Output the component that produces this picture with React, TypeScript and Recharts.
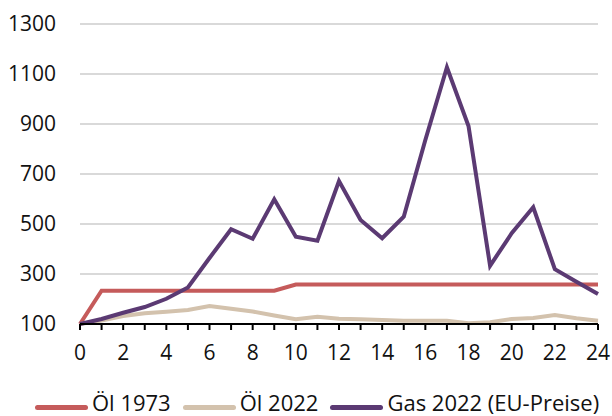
import React from "react";
import { LineChart, Line, XAxis, YAxis, CartesianGrid, Legend } from "recharts";

const months = Array.from({ length: 25 }, (_, i) => i);
const oil1973 = [100, 233, 233, 233, 233, 233, 233, 233, 233, 233, 258, 258, 258, 258, 258, 258, 258, 258, 258, 258, 258, 258, 258, 258, 258];
const oil2022 = [100, 114, 132, 143, 149, 156, 172, 161, 150, 134, 119, 129, 121, 119, 116, 113, 113, 113, 103, 107, 120, 124, 136, 123, 113];
const gas2022 = [100, 120, 145, 168, 201, 246, 364, 479, 441, 599, 449, 433, 672, 516, 443, 529, 836, 1127, 892, 333, 463, 567, 319, 269, 220];
const yTicks = [100, 300, 500, 700, 900, 1100, 1300];

const data = months.map((m, i) => ({
  m,
  oil1973: oil1973[i],
  oil2022: oil2022[i],
  gas2022: gas2022[i],
}));

const series = [
  { key: "oil1973", name: "Öl 1973", color: "#c55b5b" },
  { key: "oil2022", name: "Öl 2022", color: "#d3c2ad" },
  { key: "gas2022", name: "Gas 2022 (EU-Preise)", color: "#5b3a73" },
];

const font = "'Open Sans', 'Noto Sans', sans-serif";

function LegendBox() {
  return (
    <div style={{ display: "flex", fontFamily: font, fontSize: 22, lineHeight: "30px", height: 30, color: "#111", paddingLeft: 35, paddingTop: 23 }}>
      {series.map((s) => (
        <div key={s.key} style={{ display: "flex", alignItems: "flex-start", marginRight: 12 }}>
          <span style={{ display: "inline-block", width: 53, height: 5, marginTop: 18, background: s.color, borderRadius: 2.5, marginRight: 4 }} />
          <span style={{ whiteSpace: "nowrap" }}>{s.name}</span>
        </div>
      ))}
    </div>
  );
}

export default function App() {
  return (
    <div style={{ position: "absolute", left: 0, top: 0, width: 612, height: 416, background: "#fff" }}>
      <LineChart width={612} height={416} data={data} margin={{ top: 24, right: 14, left: 0, bottom: 0 }}>
        <CartesianGrid vertical={false} stroke="#d9d9d9" strokeWidth={2} />
        <XAxis
          dataKey="m"
          type="number"
          domain={[0, 24]}
          ticks={months}
          interval={0}
          tickFormatter={(v: number) => (v % 2 === 0 ? String(v) : "")}
          height={40}
          stroke="#000"
          strokeWidth={2}
          tickSize={6}
          tickMargin={15}
          tick={{ fill: "#111", fontSize: 21, fontFamily: font }}
        />
        <YAxis
          domain={[100, 1300]}
          ticks={yTicks}
          width={80}
          axisLine={false}
          tickLine={false}
          tickMargin={18}
          tick={{ fill: "#111", fontSize: 21, fontFamily: font }}
        />
        <Legend verticalAlign="bottom" height={52} content={() => <LegendBox />} />
        {series.map((s) => (
          <Line
            key={s.key}
            dataKey={s.key}
            name={s.name}
            stroke={s.color}
            strokeWidth={4}
            dot={false}
            isAnimationActive={false}
          />
        ))}
      </LineChart>
    </div>
  );
}
